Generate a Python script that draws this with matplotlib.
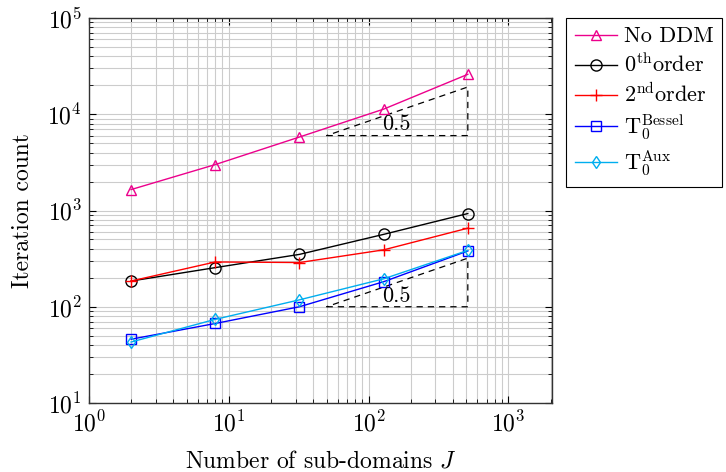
import matplotlib
matplotlib.use("Agg")
import matplotlib.pyplot as plt
import numpy as np

plt.rcParams['font.family'] = ['cmr10', 'DejaVu Serif']
plt.rcParams['mathtext.fontset'] = 'cm'
plt.rcParams['axes.formatter.use_mathtext'] = True

# Data
J = [2, 8, 32, 128, 512]
no_ddm = [1650, 3000, 5800, 11300, 26000]
order0 = [185, 255, 350, 565, 930]
order2 = [185, 292, 288, 390, 655]
t0_bessel = [46, 67, 100, 182, 380]
t0_aux = [43, 74, 118, 195, 385]

labels = ["No DDM", r"0$^{\mathrm{th}}$order", r"2$^{\mathrm{nd}}$order",
          r"T$_0^{\mathrm{Bessel}}$", r"T$_0^{\mathrm{Aux}}$"]

# slope triangles
slope_x = [50, 512]
slope_base = [6000, 100]
slope_val = 0.5
slope_label_x = 158
slope_label_y = [7900, 130]

FS_LAB = 17
FS_TICK = 17
FS_LEG = 16

fig = plt.figure(figsize=(7.26, 4.72), dpi=100)
ax = fig.add_axes([89/726, 1-403/472, (552-89)/726, (403-18)/472])
ax.set_xscale('log')
ax.set_yscale('log')
ax.set_xlim(1, 2048)
ax.set_ylim(10, 1e5)

ax.grid(True, which='both', color='#cccccc', lw=0.8, zorder=0)
ax.set_axisbelow(True)

lw = 1.0
ax.plot(J, no_ddm, color='#EC008C', lw=lw, marker='^', ms=7, mfc='none', mew=1.0, label=labels[0], zorder=3)
ax.plot(J, order0, color='black', lw=lw, marker='o', ms=8, mfc='none', mew=1.0, label=labels[1], zorder=3)
ax.plot(J, order2, color='red', lw=lw, marker='+', ms=9, mew=1.0, label=labels[2], zorder=3)
ax.plot(J, t0_bessel, color='blue', lw=lw, marker='s', ms=7.5, mfc='none', mew=1.0, label=labels[3], zorder=3)
ax.plot(J, t0_aux, color='#00AEEF', lw=lw, marker='d', ms=6.5, mfc='none', mew=1.0, label=labels[4], zorder=3)

for yb, ly in zip(slope_base, slope_label_y):
    x0, x1 = slope_x
    ytop = yb * (x1 / x0) ** slope_val
    ax.plot([x0, x1, x1, x0], [yb, yb, ytop, yb], color='black', lw=0.9,
            dashes=(5, 4), zorder=2)
    ax.text(slope_label_x, ly, f"{slope_val}", fontsize=FS_LEG, ha='center', va='center', zorder=4)

ax.set_xlabel(r"Number of sub-domains $J$", fontsize=FS_LAB, labelpad=10)
ax.set_ylabel("Iteration count", fontsize=FS_LAB, labelpad=10)
ax.tick_params(which='both', direction='in', top=True, right=True, labelsize=FS_TICK)
ax.tick_params(axis='x', which='major', pad=6)
ax.tick_params(axis='y', which='major', pad=5)
ax.tick_params(which='major', length=5, width=0.8)
ax.tick_params(which='minor', length=3, width=0.6)
ax.set_xticks([1, 10, 100, 1000])
ax.set_yticks([10, 100, 1000, 10000, 100000])
for s in ax.spines.values():
    s.set_linewidth(1.0)
    s.set_color('#333333')

leg = ax.legend(loc='upper left', bbox_to_anchor=(566/726, 1-18/472), bbox_transform=fig.transFigure,
                fontsize=FS_LEG, frameon=True, fancybox=False, framealpha=1, edgecolor='black',
                handlelength=1.9, handletextpad=0.3, borderpad=0.4, labelspacing=0.28, borderaxespad=0)
leg.get_frame().set_linewidth(0.8)

fig.savefig("out.png", dpi=100)
